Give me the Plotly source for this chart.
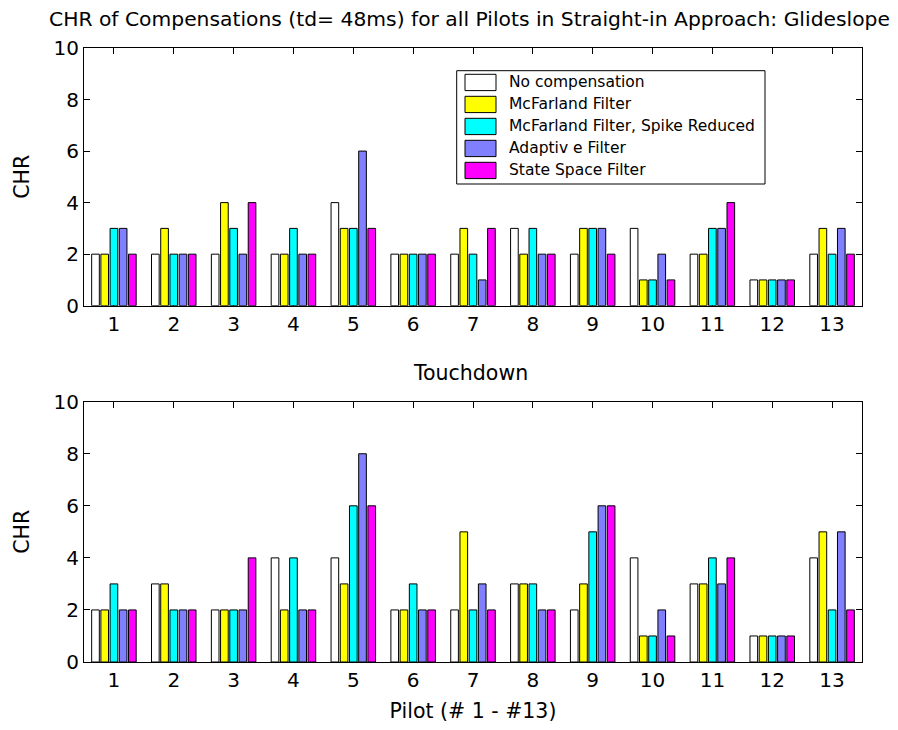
import plotly.graph_objects as go

# CHR ratings per pilot for each compensation method
pilots = list(range(1, 14))
series_names = [
    "No compensation",
    "McFarland Filter",
    "McFarland Filter, Spike Reduced",
    "Adaptiv e Filter",
    "State Space Filter",
]
series_colors = ["#FFFFFF", "#FFFF00", "#00FFFF", "#8080FF", "#FF00FF"]

# Glideslope tracking
gs_none = [2, 2, 2, 2, 4, 2, 2, 3, 2, 3, 2, 1, 2]
gs_mcf = [2, 3, 4, 2, 3, 2, 3, 2, 3, 1, 2, 1, 3]
gs_mcf_spike = [3, 2, 3, 3, 3, 2, 2, 3, 3, 1, 3, 1, 2]
gs_adaptive = [3, 2, 2, 2, 6, 2, 1, 2, 3, 2, 3, 1, 3]
gs_state_space = [2, 2, 4, 2, 3, 2, 3, 2, 2, 1, 4, 1, 2]

# Touchdown
td_none = [2, 3, 2, 4, 4, 2, 2, 3, 2, 4, 3, 1, 4]
td_mcf = [2, 3, 2, 2, 3, 2, 5, 3, 3, 1, 3, 1, 5]
td_mcf_spike = [3, 2, 2, 4, 6, 3, 2, 3, 5, 1, 4, 1, 2]
td_adaptive = [2, 2, 2, 2, 8, 2, 3, 2, 6, 2, 3, 1, 5]
td_state_space = [2, 2, 4, 2, 6, 2, 2, 2, 6, 1, 4, 1, 2]

title_text = "CHR of Compensations (td= 48ms) for all Pilots in Straight-in Approach: Glideslope"
subtitle_text = "Touchdown"
x_label = "Pilot (# 1 - #13)"
y_label = "CHR"
y_ticks = [0, 2, 4, 6, 8, 10]

glideslope = [gs_none, gs_mcf, gs_mcf_spike, gs_adaptive, gs_state_space]
touchdown = [td_none, td_mcf, td_mcf_spike, td_adaptive, td_state_space]

# Page geometry (pixels)
W, H = 898, 730
ML, MR, MT, MB = 84, 36, 48, 68
PW, PH = W - ML - MR, H - MT - MB


def px(xp):
    return (xp - ML) / PW


def py(yp):
    return (H - MB - yp) / PH


FONT = "DejaVu Sans"

fig = go.Figure()
for vals, xa, ya in ((glideslope, "x", "y"), (touchdown, "x2", "y2")):
    for name, color, v in zip(series_names, series_colors, vals):
        fig.add_trace(go.Bar(
            x=pilots, y=v, name=name, xaxis=xa, yaxis=ya,
            marker=dict(color=color, line=dict(color="#000000", width=1)),
            showlegend=False,
        ))

axis_common = dict(
    showline=True, linecolor="#000000", linewidth=1, mirror="ticks",
    ticks="inside", ticklen=6, tickwidth=1, tickcolor="#000000",
    showgrid=False, zeroline=False,
    tickfont=dict(family=FONT, size=20, color="#000000"),
)

top_y0 = py(305.7)
bot_y1 = py(401.7)

fig.update_layout(
    width=W, height=H,
    margin=dict(l=ML, r=MR, t=MT, b=MB),
    paper_bgcolor="#FFFFFF", plot_bgcolor="#FFFFFF",
    barmode="group", bargap=0.23, bargroupgap=0.17,
    font=dict(family=FONT, color="#000000"),
    xaxis=dict(domain=[0, 1], anchor="y", range=[0.5, 13.5],
               tickvals=pilots, layer="below traces", **axis_common),
    yaxis=dict(domain=[top_y0, 1], anchor="x", range=[0, 10],
               tickvals=y_ticks,
               title=dict(text=y_label, font=dict(family=FONT, size=20.5), standoff=18),
               **axis_common),
    xaxis2=dict(domain=[0, 1], anchor="y2", range=[0.5, 13.5],
                tickvals=pilots, layer="below traces",
                title=dict(text=x_label, font=dict(family=FONT, size=20.5), standoff=12),
                **axis_common),
    yaxis2=dict(domain=[0, bot_y1], anchor="x2", range=[0, 10],
                tickvals=y_ticks,
                title=dict(text=y_label, font=dict(family=FONT, size=20.5), standoff=18),
                **axis_common),
)

# Panel titles
fig.add_annotation(text=title_text, xref="paper", yref="paper",
                   x=px(469.5), y=py(19), xanchor="center", yanchor="middle",
                   showarrow=False, font=dict(family=FONT, size=20.3, color="#000000"))
fig.add_annotation(text=subtitle_text, xref="paper", yref="paper",
                   x=px(470), y=py(373), xanchor="center", yanchor="middle",
                   showarrow=False, font=dict(family=FONT, size=20.5, color="#000000"))

# Legend box in the upper panel
LX0, LX1, LY0, LY1 = 456.7, 765.0, 70.7, 184.0
fig.add_shape(type="rect", xref="paper", yref="paper",
              x0=px(LX0), x1=px(LX1), y0=py(LY1), y1=py(LY0),
              line=dict(color="#000000", width=1), fillcolor="#FFFFFF", layer="above")
ROW0, ROW_STEP, SW_H = 74.3, 22.0, 16.3
for i, (name, color) in enumerate(zip(series_names, series_colors)):
    top = ROW0 + i * ROW_STEP
    fig.add_shape(type="rect", xref="paper", yref="paper",
                  x0=px(465), x1=px(496), y0=py(top + SW_H), y1=py(top),
                  line=dict(color="#000000", width=1), fillcolor=color, layer="above")
    fig.add_annotation(text=name, xref="paper", yref="paper",
                       x=px(506.7), y=py(top + SW_H / 2), xanchor="left", yanchor="middle",
                       showarrow=False, font=dict(family=FONT, size=15.5, color="#000000"))

fig.write_html("out.html")
